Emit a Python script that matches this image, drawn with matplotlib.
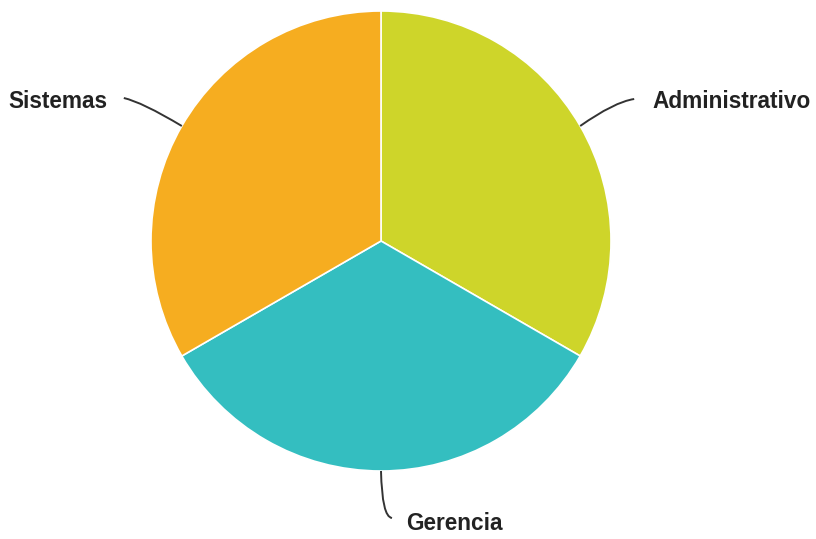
import matplotlib
matplotlib.use("Agg")
import matplotlib.pyplot as plt
from matplotlib.path import Path
from matplotlib.patches import PathPatch
import numpy as np

categories = ["Administrativo", "Gerencia", "Sistemas"]
values = [1, 1, 1]
colors = ["#CED52A", "#34BEC0", "#F6AD20"]

W, H = 816, 539
fig = plt.figure(figsize=(W / 100, H / 100), dpi=100)
ax = fig.add_axes([0, 0, 1, 1])
ax.set_xlim(0, W)
ax.set_ylim(0, H)

cx, cy, r = 381, H - 241, 230
wedges, _ = ax.pie(values, colors=colors, startangle=90, counterclock=False,
                   center=(cx, cy), radius=r, frame=True,
                   wedgeprops=dict(edgecolor="white", linewidth=1.2))
ax.set_aspect("equal")
ax.set_xlim(0, W)
ax.set_ylim(0, H)
ax.axis("off")

# connector geometry: (control offset, end offset) relative to edge point, label anchor
connectors = {
    "Administrativo": dict(ctrl=(34, 24), end=(54, 27), text=(72, 25), ha="left"),
    "Gerencia": dict(ctrl=(1, -46), end=(11, -47), text=(25, -53), ha="left"),
    "Sistemas": dict(ctrl=(-40, 24), end=(-58, 28), text=(-74, 25), ha="right"),
}

for w, name in zip(wedges, categories):
    mid = np.deg2rad((w.theta1 + w.theta2) / 2)
    ex, ey = cx + r * np.cos(mid), cy + r * np.sin(mid)
    c = connectors[name]
    verts = [(ex, ey), (ex + c["ctrl"][0], ey + c["ctrl"][1]),
             (ex + c["end"][0], ey + c["end"][1])]
    path = Path(verts, [Path.MOVETO, Path.CURVE3, Path.CURVE3])
    ax.add_patch(PathPatch(path, facecolor="none", edgecolor="#333333", lw=1.4))
    ax.text(ex + c["text"][0], ey + c["text"][1], name, ha=c["ha"], va="center",
            fontsize=16.3, fontweight="bold", color="#222222",
            family="Liberation Sans")

fig.savefig("out.png", dpi=100)
